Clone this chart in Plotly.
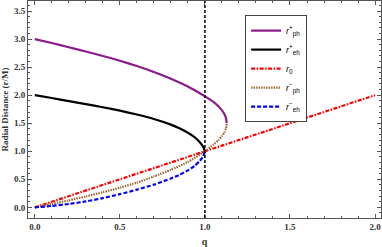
import plotly.graph_objects as go

# data
q_ph_plus = [0, 0.1, 0.2, 0.3, 0.4, 0.5, 0.6, 0.7, 0.8, 0.9, 0.95, 1.0, 1.05, 1.08, 1.1, 1.115, 1.124, 1.128]
r_ph_plus = [3.0, 2.93, 2.855, 2.78, 2.70, 2.615, 2.52, 2.415, 2.295, 2.155, 2.07, 1.98, 1.88, 1.80, 1.73, 1.66, 1.59, 1.5]

q_eh_plus = [0, 0.1, 0.2, 0.3, 0.4, 0.5, 0.6, 0.7, 0.8, 0.85, 0.9, 0.94, 0.97, 0.99, 1.0]
r_eh_plus = [2.0, 1.95, 1.895, 1.84, 1.785, 1.725, 1.655, 1.575, 1.475, 1.41, 1.33, 1.25, 1.16, 1.08, 1.0]

q_r0 = [0, 2.0]
r_r0 = [0, 2.0]

q_ph_minus = [0, 0.1, 0.2, 0.3, 0.4, 0.5, 0.6, 0.7, 0.8, 0.9, 1.0, 1.05, 1.08, 1.1, 1.115, 1.124, 1.128]
r_ph_minus = [0, 0.06, 0.125, 0.195, 0.27, 0.35, 0.44, 0.55, 0.67, 0.81, 1.0, 1.12, 1.20, 1.27, 1.34, 1.41, 1.5]

q_eh_minus = [0, 0.1, 0.2, 0.3, 0.4, 0.5, 0.6, 0.7, 0.8, 0.85, 0.9, 0.94, 0.97, 0.99, 1.0]
r_eh_minus = [0, 0.025, 0.06, 0.105, 0.165, 0.235, 0.315, 0.405, 0.515, 0.58, 0.66, 0.74, 0.83, 0.91, 1.0]

x_ticks = [0.0, 0.5, 1.0, 1.5, 2.0]
y_ticks = [0.0, 0.5, 1.0, 1.5, 2.0, 2.5, 3.0, 3.5]

fig = go.Figure()
series = [
    (q_ph_plus, r_ph_plus, "<i>r</i><sup>+</sup><sub>ph</sub>", "#8B1A8B", "solid"),
    (q_eh_plus, r_eh_plus, "<i>r</i><sup>+</sup><sub>eh</sub>", "black", "solid"),
    (q_r0, r_r0, "<i>r</i><sub>0</sub>", "#FF0000", "4px,1.5px,1.5px,1.5px"),
    (q_ph_minus, r_ph_minus, "<i>r</i><sup>\u2212</sup><sub>ph</sub>", "#A0703C", "1.5px,1px"),
    (q_eh_minus, r_eh_minus, "<i>r</i><sup>\u2212</sup><sub>eh</sub>", "#0000FF", "4px,2px"),
]
for x, y, name, color, dash in series:
    fig.add_trace(go.Scatter(x=x, y=y, mode="lines", name=name,
                             line=dict(color=color, dash=dash, width=2.2, shape="spline", smoothing=0.5)))

fig.add_shape(type="line", x0=1, x1=1, y0=0, y1=1, xref="x", yref="paper",
              line=dict(color="black", width=1.5, dash="3px,2px"))

tickfont = dict(family="Liberation Serif", size=9, color="#333", weight="bold")
axcommon = dict(showline=True, linecolor="#555", linewidth=1, mirror="ticks",
                ticks="inside", ticklen=4, tickcolor="#555", showgrid=False, zeroline=False,
                tickfont=tickfont, automargin=False,
                minor=dict(ticks="inside", ticklen=2, tickcolor="#555", dtick=0.1))
fig.update_xaxes(range=[-0.04, 2.035], tickvals=x_ticks, ticktext=[f"{v:.1f}" for v in x_ticks],
                 title=dict(text="q", font=dict(family="Liberation Serif", size=10, color="#333", weight="bold")),
                 **axcommon)
fig.update_yaxes(range=[-0.19, 3.68], tickvals=y_ticks, ticktext=[f"{v:.1f}" for v in y_ticks],
                 title=dict(text="Radial Distance (r/M)", font=dict(family="Liberation Serif", size=9, color="#333", weight="bold")),
                 **axcommon)

fig.update_layout(width=382, height=247, margin=dict(l=28, r=1, t=1, b=29),
                  plot_bgcolor="white", paper_bgcolor="white",
                  legend=dict(x=0.615, y=0.935, xanchor="left", yanchor="top",
                              bgcolor="white", bordercolor="#444", borderwidth=1,
                              font=dict(family="Liberation Sans", size=9, color="black"),
                              tracegroupgap=0, itemwidth=30))
fig.write_html("out.html", config={"displayModeBar": False},
               post_script="document.body.style.margin='0';document.body.style.padding='0';")
